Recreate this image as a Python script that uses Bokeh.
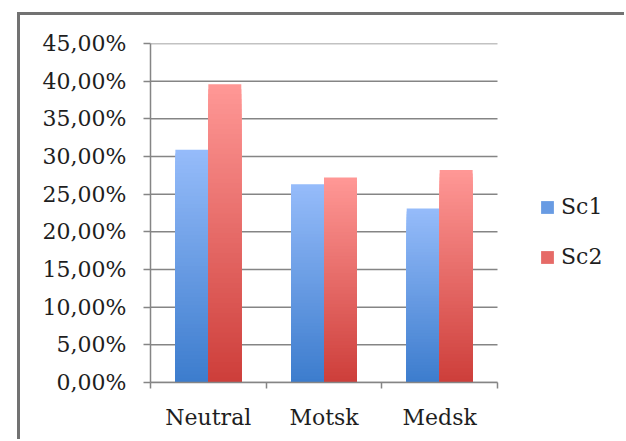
from bokeh.plotting import figure
from bokeh.models import Range1d, FixedTicker, Legend, LegendItem, ColumnDataSource, Spacer
from bokeh.layouts import column, row
from bokeh.embed import file_html
from bokeh.resources import INLINE

# ---- data ----
categories = ["Neutral", "Motsk", "Medsk"]
sc1 = [30.9, 26.3, 23.1]
sc2 = [39.6, 27.2, 28.2]
series_names = ["Sc1", "Sc2"]
y_ticks = [0, 5, 10, 15, 20, 25, 30, 35, 40, 45]
y_tick_labels = ["0,00%", "5,00%", "10,00%", "15,00%", "20,00%", "25,00%",
                 "30,00%", "35,00%", "40,00%", "45,00%"]

# ---- styles ----
FONT = "DejaVu Serif"
GRID = "#858585"
BLUE_TOP, BLUE_BOT = (150, 188, 250), (60, 124, 205)
RED_TOP, RED_BOT = (255, 152, 150), (205, 62, 58)
BAR_W = 0.285
N_SEG = 60

W, H = 604, 424
ML, MT, MB = 130, 28, 57
CAT_PX = 347  # pixel width of the category area
n_cat = len(categories)
x_end = n_cat * (W - ML) / CAT_PX


def mix(c_top, c_bot, t):
    # t=0 bottom, t=1 top
    r = [round(c_bot[i] + (c_top[i] - c_bot[i]) * t) for i in range(3)]
    return "#%02x%02x%02x" % tuple(r)


p = figure(width=W, height=H, output_backend="svg", toolbar_location=None,
           x_range=Range1d(0, x_end), y_range=Range1d(0, 45),
           min_border_left=ML, min_border_right=0, min_border_top=MT,
           min_border_bottom=MB)
p.outline_line_color = None
p.background_fill_color = "white"
p.border_fill_color = "white"
p.xgrid.grid_line_color = None
p.ygrid.grid_line_color = None

# horizontal gridlines limited to the category area
p.segment(x0=[0] * len(y_ticks), x1=[n_cat] * len(y_ticks), y0=y_ticks, y1=y_ticks,
          line_color=GRID, line_width=1.5)

# gradient bars: stacked overlapping quads, tallest first
bar_renderers = []
for values, offset, ctop, cbot in [(sc1, -BAR_W, BLUE_TOP, BLUE_BOT),
                                   (sc2, 0.0, RED_TOP, RED_BOT)]:
    left, right, bottom, top, colors = [], [], [], [], []
    for i, v in enumerate(values):
        for k in range(N_SEG):
            h = v * (N_SEG - k) / N_SEG
            t = (N_SEG - k - 0.5) / N_SEG
            left.append(i + 0.5 + offset)
            right.append(i + 0.5 + offset + BAR_W)
            bottom.append(0)
            top.append(h)
            colors.append(mix(ctop, cbot, t))
    src = ColumnDataSource(dict(left=left, right=right, bottom=bottom, top=top, color=colors))
    bar_renderers.append(p.quad(left="left", right="right", bottom="bottom", top="top",
                                fill_color="color", line_color=None, source=src))

# axes
p.yaxis.ticker = FixedTicker(ticks=y_ticks)
p.yaxis.major_label_overrides = {t: l for t, l in zip(y_ticks, y_tick_labels)}
p.yaxis.major_tick_out = 7
p.yaxis.major_tick_in = 0
p.yaxis.minor_tick_line_color = None
p.yaxis.axis_line_color = GRID
p.yaxis.axis_line_width = 1.5
p.yaxis.major_tick_line_color = GRID
p.yaxis.major_tick_line_width = 1.5
p.yaxis.major_label_standoff = 17
p.yaxis.major_label_text_font = FONT
p.yaxis.major_label_text_font_size = "22px"
p.yaxis.major_label_text_color = "#1e1e1e"

p.xaxis.bounds = (0, n_cat)
p.xaxis.ticker = FixedTicker(ticks=[i + 0.5 for i in range(n_cat)],
                             minor_ticks=list(range(n_cat + 1)))
p.xaxis.major_label_overrides = {i + 0.5: c for i, c in enumerate(categories)}
p.xaxis.major_tick_line_color = None
p.xaxis.minor_tick_out = 6
p.xaxis.minor_tick_in = 0
p.xaxis.minor_tick_line_color = GRID
p.xaxis.minor_tick_line_width = 1.5
p.xaxis.axis_line_color = GRID
p.xaxis.axis_line_width = 1.5
p.xaxis.major_label_standoff = 16
p.xaxis.major_label_text_font = FONT
p.xaxis.major_label_text_font_size = "22px"
p.xaxis.major_label_text_color = "#1e1e1e"

# legend (glyph colour taken from the middle of each bar gradient)
legend = Legend(items=[LegendItem(label=series_names[0], renderers=[bar_renderers[0]], index=N_SEG // 2),
                       LegendItem(label=series_names[1], renderers=[bar_renderers[1]], index=N_SEG // 2)],
                location=(389, 113), orientation="vertical")
legend.background_fill_alpha = 0
legend.border_line_color = None
legend.padding = 0
legend.margin = 0
legend.glyph_width = 16
legend.glyph_height = 16
legend.label_standoff = 6
legend.spacing = 25
legend.label_height = 22
legend.label_text_font = FONT
legend.label_text_font_size = "22px"
legend.label_text_color = "#1e1e1e"
p.add_layout(legend)

inner = column(p, styles={"border-top": "3px solid #727272",
                          "border-left": "3px solid #727272"})
layout = column(Spacer(height=12), row(Spacer(width=17), inner))

open("out.html", "w").write(file_html(layout, INLINE))
